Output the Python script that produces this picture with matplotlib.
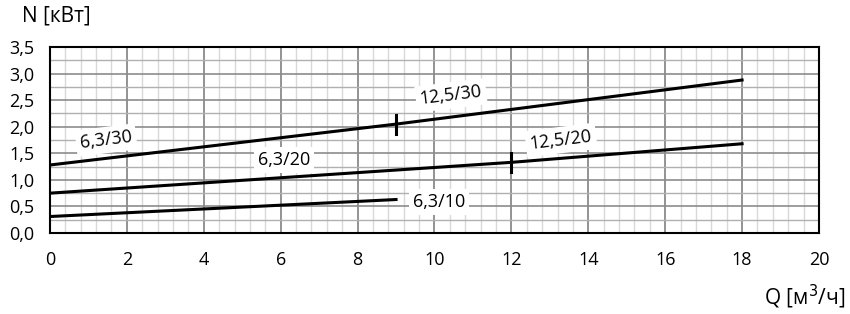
import matplotlib
matplotlib.use("Agg")
import matplotlib.pyplot as plt
import numpy as np

plt.rcParams["font.family"] = ["Open Sans", "DejaVu Sans"]

# кривые мощности N(Q)
q_30 = [0, 9, 18]
n_30 = [1.28, 2.05, 2.88]
q_20 = [0, 12, 18]
n_20 = [0.75, 1.33, 1.68]
q_10 = [0, 9]
n_10 = [0.31, 0.63]

# отметки перехода 6,3 -> 12,5
mark_q = [9, 12]
mark_n = [2.05, 1.33]

labels = ["6,3/30", "12,5/30", "6,3/20", "12,5/20", "6,3/10"]
label_q = [1.46, 10.43, 6.09, 13.29, 10.12]
label_n = [1.75, 2.59, 1.37, 1.75, 0.58]
label_rot = [7, 7, 0, 7, 0]

fig = plt.figure(figsize=(8.5, 3.14), dpi=100)
ax = fig.add_axes([0.0588, 0.258, 0.9047, 0.592])

ax.set_xlim(0, 20)
ax.set_ylim(0, 3.5)

# сетка
for x in np.arange(0, 20.01, 0.4):
    major = abs(x / 2 - round(x / 2)) < 1e-6
    ax.axvline(x, color="#808080" if major else "#d9d9d9",
               lw=1.2 if major else 1.0, zorder=1 if major else 0)
for y in np.arange(0, 3.51, 0.25):
    major = abs(y / 0.5 - round(y / 0.5)) < 1e-6
    ax.axhline(y, color="#8c8c8c" if major else "#b0b0b0",
               lw=1.2 if major else 1.0, zorder=1)

ax.plot(q_30, n_30, color="black", lw=2.2, zorder=3)
ax.plot(q_20, n_20, color="black", lw=2.2, zorder=3)
ax.plot(q_10, n_10, color="black", lw=2.2, zorder=3)
for q, n in zip(mark_q, mark_n):
    ax.plot([q, q], [n - 0.18, n + 0.18], color="black", lw=2.2, zorder=3)

for t, q, n, r in zip(labels, label_q, label_n, label_rot):
    ax.text(q, n, t, ha="center", va="center", rotation=r, fontsize=13,
            zorder=4, bbox=dict(facecolor="white", edgecolor="none", pad=3))

ax.set_xticks(range(0, 21, 2))
ax.set_yticks(np.arange(0, 3.51, 0.5))
ax.set_yticklabels([f"{v:.1f}".replace(".", ",") for v in np.arange(0, 3.51, 0.5)])
ax.tick_params(length=0, labelsize=13)
ax.tick_params(axis="x", pad=13)
ax.tick_params(axis="y", pad=11)
for s in ax.spines.values():
    s.set_linewidth(1.5)
    s.set_zorder(5)

fig.text(0.026, 0.95, "N [кВт]", fontsize=15, ha="left", va="center")
fig.text(0.995, 0.055, "Q [м$^3$/ч]", fontsize=15, ha="right", va="center")

fig.savefig("out.png", dpi=100)
